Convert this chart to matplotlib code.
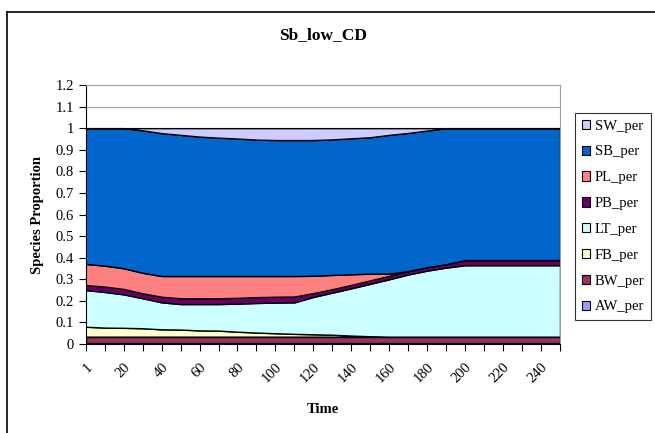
import numpy as np
import matplotlib
matplotlib.use("Agg")
import matplotlib.pyplot as plt
from matplotlib.patches import Patch
from matplotlib.lines import Line2D

plt.rcParams['font.family'] = ['Liberation Serif', 'DejaVu Serif']

# categories (Time) and species proportions, stacked bottom -> top
time = [1, 10, 20, 30, 40, 50, 60, 70, 80, 90, 100, 110, 120,
        130, 140, 150, 160, 170, 180, 190, 200, 210, 220, 230, 240, 250]

aw_per = [0.006] * 26
bw_per = [0.028] * 26
fb_per = [0.046, 0.042, 0.041, 0.039, 0.034, 0.033, 0.029, 0.028, 0.023,
          0.019, 0.016, 0.013, 0.011, 0.009, 0.005, 0.002, 0, 0, 0, 0,
          0, 0, 0, 0, 0, 0]
lt_per = [0.170, 0.165, 0.155, 0.139, 0.125, 0.118, 0.122, 0.123, 0.130,
          0.137, 0.142, 0.146, 0.173, 0.195, 0.219, 0.243, 0.266, 0.288,
          0.306, 0.320, 0.331, 0.331, 0.331, 0.331, 0.331, 0.331]
pb_per = [0.023, 0.025, 0.025, 0.023, 0.026, 0.027, 0.027, 0.027, 0.027,
          0.027, 0.027, 0.027, 0.018, 0.016, 0.016, 0.016, 0.016, 0.016,
          0.016, 0.016, 0.024, 0.024, 0.024, 0.024, 0.024, 0.024]
pl_per = [0.098, 0.097, 0.096, 0.095, 0.096, 0.103, 0.103, 0.103, 0.101,
          0.098, 0.096, 0.095, 0.080, 0.066, 0.049, 0.031, 0.010, 0, 0, 0,
          0, 0, 0, 0, 0, 0]
sb_per = [0.629, 0.637, 0.649, 0.660, 0.662, 0.654, 0.646, 0.641, 0.637,
          0.632, 0.630, 0.630, 0.629, 0.628, 0.630, 0.632, 0.643, 0.640,
          0.633, 0.630, 0.611, 0.611, 0.611, 0.611, 0.611, 0.611]
sw_per = [0, 0, 0, 0.010, 0.023, 0.031, 0.039, 0.044, 0.048, 0.053, 0.055,
          0.055, 0.055, 0.052, 0.047, 0.042, 0.031, 0.022, 0.011, 0, 0, 0,
          0, 0, 0, 0]

names = ['AW_per', 'BW_per', 'FB_per', 'LT_per', 'PB_per', 'PL_per', 'SB_per', 'SW_per']
colors = ['#9999FF', '#993366', '#FFFFCC', '#CCFFFF', '#660066', '#FF8080', '#0066CC', '#CCCCFF']
series = [aw_per, bw_per, fb_per, lt_per, pb_per, pl_per, sb_per, sw_per]

fig = plt.figure(figsize=(6.55, 4.33), dpi=100)
ax = fig.add_axes([85.7 / 655, 1 - 344 / 433, (560 - 85.7) / 655, (344 - 85) / 433])

x = np.arange(len(time))
ax.stackplot(x, *series, colors=colors, edgecolor='black', linewidth=1.0, zorder=2)

ax.set_xlim(0, len(time) - 1)
ax.set_ylim(0, 1.2)
yt = np.round(np.arange(0, 1.21, 0.1), 1)
ax.set_yticks(yt)
ax.set_yticklabels(['%g' % v for v in yt], fontsize=10.5)
ax.yaxis.grid(True, color='#a0a0a0', linewidth=0.8, zorder=0)
ax.set_axisbelow(True)

# category axis: tick at every step, label every other one
ax.set_xticks(x)
ax.set_xticklabels([str(t) if i % 2 == 0 else '' for i, t in enumerate(time)],
                   rotation=45, ha='right', rotation_mode='anchor', fontsize=10.5)
ax.tick_params(axis='both', direction='out', length=5, width=0.8, color='black')
ax.tick_params(axis='x', pad=7)

for s in ['top', 'right']:
    ax.spines[s].set_color('#a0a0a0')
for s in ['left', 'bottom']:
    ax.spines[s].set_color('black')

ax.set_xlabel('Time', fontsize=10.5, fontweight='bold', labelpad=13)
ax.set_ylabel('Species Proportion', fontsize=10.5, fontweight='bold', labelpad=8)
fig.text(323 / 655, 1 - 35 / 433, 'Sb_low_CD', ha='center', va='center',
         fontsize=12.5, fontweight='bold')

handles = [Patch(facecolor=c, edgecolor='black', linewidth=0.8) for c in colors[::-1]]
leg = fig.legend(handles, names[::-1], loc='upper left',
                 bbox_to_anchor=(575 / 655, 1 - 113 / 433), borderaxespad=0,
                 fontsize=10.5, frameon=True, fancybox=False, edgecolor='black',
                 handlelength=0.6, handleheight=0.6, handletextpad=0.3,
                 labelspacing=0.88, borderpad=0.45)
leg.get_frame().set_linewidth(0.8)

# chart area border
fig.add_artist(Line2D([6.5 / 655, 6.5 / 655], [0, 1 - 12 / 433], color='black', lw=1.2,
                      transform=fig.transFigure))
fig.add_artist(Line2D([6.5 / 655, 1], [1 - 12 / 433, 1 - 12 / 433], color='black', lw=1.2,
                      transform=fig.transFigure))

fig.savefig('out.png', dpi=100)
